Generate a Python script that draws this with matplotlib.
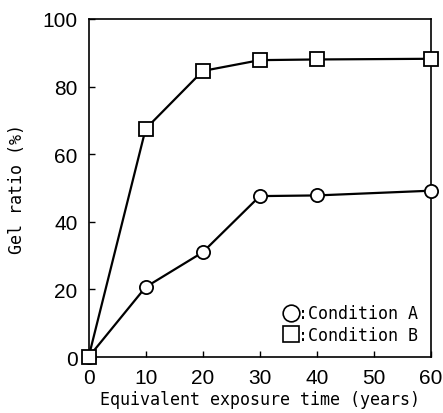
# Gel ratio vs equivalent exposure time
import matplotlib
matplotlib.use('Agg')
import matplotlib.pyplot as plt
from matplotlib.lines import Line2D

# Data
years = [0, 10, 20, 30, 40, 60]
cond_a = [0, 20.7, 31.0, 47.6, 47.8, 49.2]
cond_b = [0, 67.5, 84.6, 87.8, 88.0, 88.2]
xticks = [0, 10, 20, 30, 40, 50, 60]
yticks = [0, 20, 40, 60, 80, 100]

mono = 'DejaVu Sans Mono'
num_font = ['Liberation Sans Narrow', 'Liberation Sans']

fig = plt.figure(figsize=(4.43, 4.14), dpi=100)
ax = fig.add_axes([0.2, 0.135, 0.773, 0.817])

ax.plot(years, cond_a, '-', color='black', lw=1.6, marker='o', ms=9.5,
        mfc='white', mec='black', mew=1.3, clip_on=False, zorder=3)
ax.plot(years, cond_b, '-', color='black', lw=1.6, marker='s', ms=9.5,
        mfc='white', mec='black', mew=1.3, clip_on=False, zorder=3)

ax.set_xlim(0, 60)
ax.set_ylim(0, 100)
ax.set_xticks(xticks)
ax.set_yticks(yticks)
ax.tick_params(direction='in', length=4, width=1, pad=8, labelsize=15)
for lbl in ax.get_xticklabels() + ax.get_yticklabels():
    lbl.set_fontfamily(num_font)
ax.tick_params(axis='x', pad=8)
for s in ax.spines.values():
    s.set_linewidth(1.2)

ax.set_xlabel('Equivalent exposure time (years)', fontfamily=mono,
              fontsize=12, labelpad=2)
ax.set_ylabel('Gel ratio (%)', fontfamily=mono, fontsize=12, labelpad=12)

handles = [
    Line2D([], [], ls='none', marker='o', ms=12, mfc='white', mec='black', mew=1.2),
    Line2D([], [], ls='none', marker='s', ms=12, mfc='white', mec='black', mew=1.2),
]
ax.legend(handles, [':Condition A', ':Condition B'], loc='lower right',
          frameon=False, handlelength=0.8, handletextpad=0.0,
          labelspacing=0.2, borderaxespad=0.4,
          prop={'family': mono, 'size': 12})

fig.savefig('out.png', dpi=100)
